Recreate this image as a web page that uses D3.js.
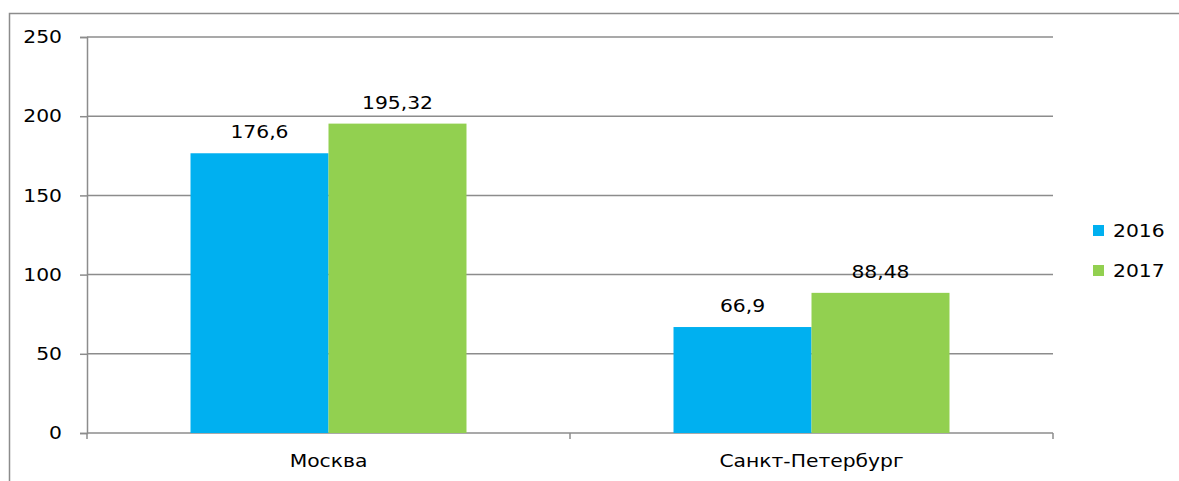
<!DOCTYPE html>
<html><head><meta charset="utf-8">
<script src="https://cdn.jsdelivr.net/npm/d3@7"></script>
<style>body{margin:0;background:#fff}svg{display:block}</style>
</head><body>
<svg id="c" width="1179" height="481"></svg>
<script>
const categories = ["Москва", "Санкт-Петербург"];
const seriesNames = ["2016", "2017"];
const values2016 = [176.6, 66.9];
const values2017 = [195.32, 88.48];
const labels2016 = ["176,6", "66,9"];
const labels2017 = ["195,32", "88,48"];
const yTicks = [0, 50, 100, 150, 200, 250];
const colors = ["#00B0F0", "#92D050"];

const svg = d3.select("#c");
const font = "DejaVu Sans, Verdana, sans-serif";
const FS = 17.5, SX = 1.16;
const L = 87, R = 1053, T = 37, B = 433;

function stretch(sel) {
  sel.each(function() {
    const t = d3.select(this);
    const x = +t.attr("x") || 0;
    t.attr("x", x / SX).attr("transform", `scale(${SX},1)`);
  });
}

svg.append("rect").attr("x", 9.5).attr("y", 13.5).attr("width", 1300).attr("height", 600)
  .attr("fill", "none").attr("stroke", "#8c8c8c").attr("stroke-width", 1.5);

const x0 = d3.scaleBand().domain(categories).range([L, R]).paddingInner(0.4286).paddingOuter(0.2143);
const x1 = d3.scaleBand().domain(seriesNames).range([0, x0.bandwidth()]);
const y = d3.scaleLinear().domain([0, 250]).range([B, T]);

// gridlines
svg.append("g").selectAll("line").data(yTicks.filter(d => d > 0)).join("line")
  .attr("x1", L).attr("x2", R).attr("y1", d => y(d)).attr("y2", d => y(d))
  .attr("stroke", "#8c8c8c").attr("stroke-width", 1.5);

// y axis
const yAxis = svg.append("g").attr("transform", `translate(${L},0)`)
  .call(d3.axisLeft(y).tickValues(yTicks).tickSize(7).tickPadding(18).tickFormat(d3.format("d")));
yAxis.select(".domain").attr("stroke", "#8c8c8c").attr("stroke-width", 1.5);
yAxis.selectAll(".tick line").attr("stroke", "#8c8c8c").attr("stroke-width", 1.5);
yAxis.selectAll("text").attr("font-family", font).attr("font-size", FS).attr("fill", "#000").call(stretch);

// x axis
const xAxis = svg.append("g").attr("transform", `translate(0,${B})`)
  .call(d3.axisBottom(x0).tickSize(0).tickPadding(22).tickSizeOuter(0));
xAxis.select(".domain").attr("stroke", "#8c8c8c").attr("stroke-width", 1.5).attr("d", `M${L},0H${R}`);
xAxis.selectAll("text").attr("font-family", font).attr("font-size", FS).attr("fill", "#000").call(stretch);
const bounds = [L, (L + R) / 2, R];
svg.append("g").selectAll("line").data(bounds).join("line")
  .attr("x1", d => d).attr("x2", d => d).attr("y1", B).attr("y2", B + 6)
  .attr("stroke", "#8c8c8c").attr("stroke-width", 1.5);

// bars
const data = categories.map((c, i) => ({c, vals: [
  {s: seriesNames[0], v: values2016[i], l: labels2016[i], col: colors[0]},
  {s: seriesNames[1], v: values2017[i], l: labels2017[i], col: colors[1]}]}));
const g = svg.append("g").selectAll("g").data(data).join("g")
  .attr("transform", d => `translate(${x0(d.c)},0)`);
g.selectAll("rect").data(d => d.vals).join("rect")
  .attr("x", d => x1(d.s)).attr("width", x1.bandwidth())
  .attr("y", d => y(d.v)).attr("height", d => B - y(d.v)).attr("fill", d => d.col);
g.selectAll("text").data(d => d.vals).join("text")
  .attr("x", d => x1(d.s) + x1.bandwidth() / 2).attr("y", d => y(d.v) - 15)
  .attr("text-anchor", "middle").attr("font-family", font).attr("font-size", FS).attr("fill", "#000")
  .text(d => d.l).call(stretch);

// legend
const lg = svg.append("g").selectAll("g").data(seriesNames).join("g")
  .attr("transform", (d, i) => `translate(1093,${225 + i * 40})`);
lg.append("rect").attr("width", 11).attr("height", 11).attr("fill", (d, i) => colors[i]);
lg.append("text").attr("x", 20).attr("y", 12).attr("font-family", font).attr("font-size", FS)
  .attr("fill", "#000").text(d => d).call(stretch);
</script>
</body></html>
